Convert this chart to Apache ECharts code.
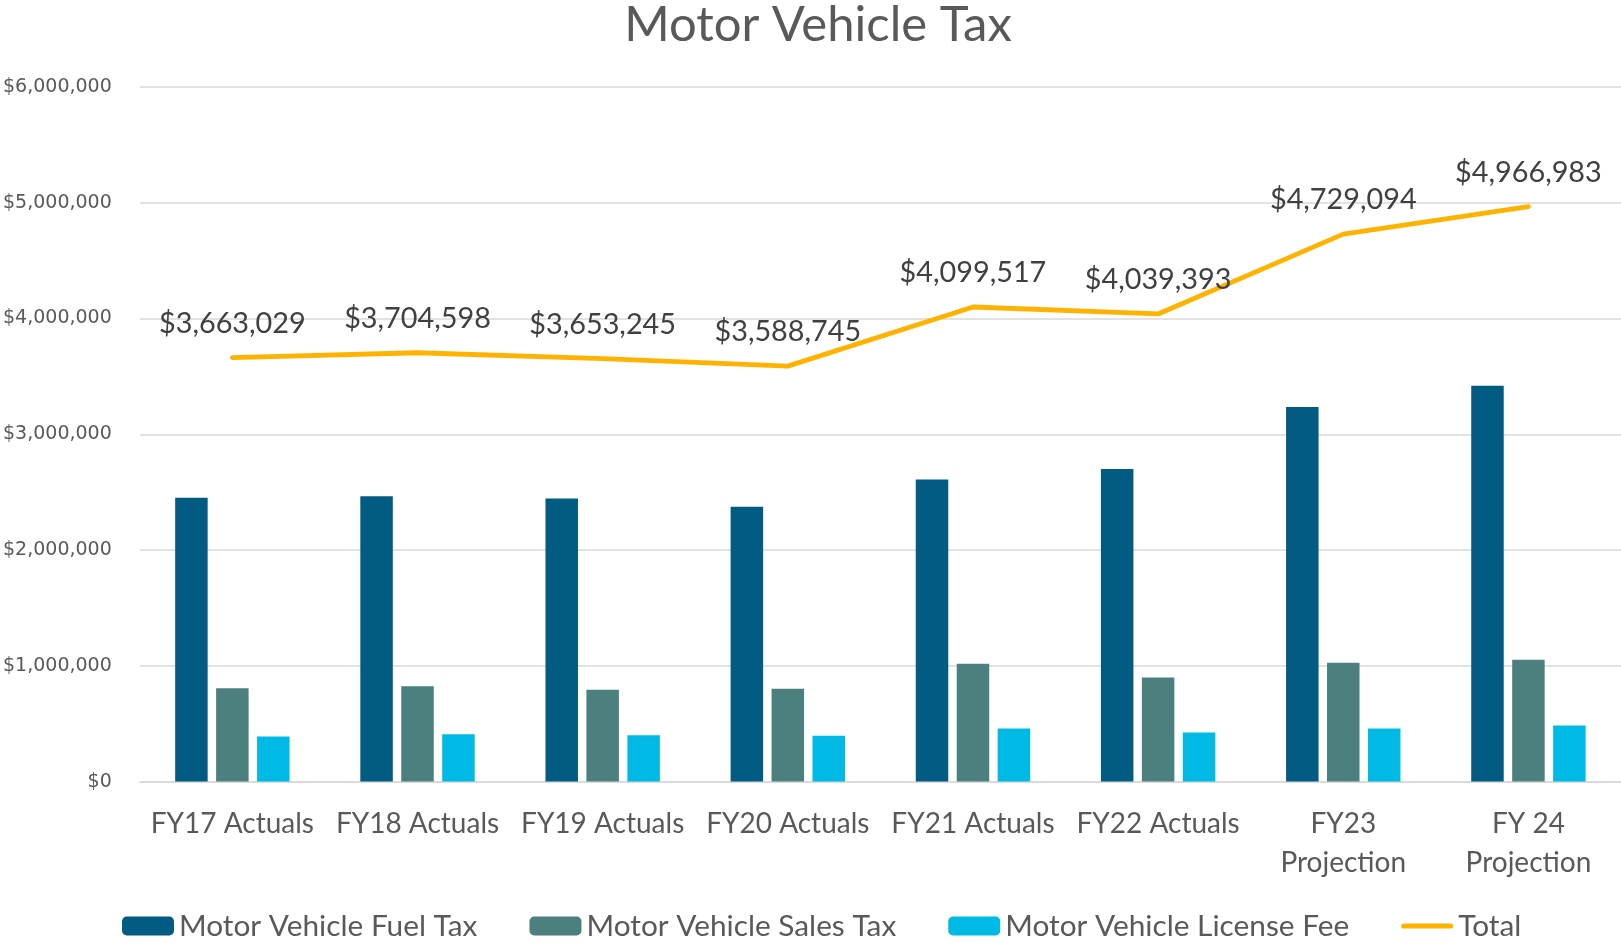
<!DOCTYPE html>
<html>
<head>
<meta charset="utf-8">
<script src="https://cdn.jsdelivr.net/npm/echarts@6/dist/echarts.min.js"></script>
<style>
html,body{margin:0;padding:0;background:#fff;}
#chart{width:1621px;height:942px;}
</style>
</head>
<body>
<div id="chart"></div>
<script>
const categories = ['FY17 Actuals','FY18 Actuals','FY19 Actuals','FY20 Actuals','FY21 Actuals','FY22 Actuals','FY23\nProjection','FY 24\nProjection'];
const fuelTax = [2452000, 2464000, 2446000, 2374000, 2610000, 2700000, 3236000, 3420000];
const salesTax = [807000, 824000, 793000, 801000, 1017000, 899000, 1026000, 1052000];
const licenseFee = [389000, 409000, 401000, 395000, 458000, 424000, 458000, 484000];
const totals = [3663029, 3704598, 3653245, 3588745, 4099517, 4039393, 4729094, 4966983];
const yTicks = {min: 0, max: 6000000, interval: 1000000};

const FONT = 'Lato, "Noto Sans", sans-serif';
const money = v => '$' + Math.round(v).toLocaleString('en-US');

const chart = echarts.init(document.getElementById('chart'));
chart.setOption({
  animation: false,
  backgroundColor: '#ffffff',
  textStyle: {fontFamily: FONT},
  title: {
    text: 'Motor Vehicle Tax',
    left: 813,
    textAlign: 'center',
    top: -4,
    textStyle: {fontFamily: FONT, fontSize: 49, fontWeight: 'normal', color: '#595959'}
  },
  legend: {
    left: 122,
    top: 911,
    padding: 0,
    itemWidth: 52,
    itemHeight: 19,
    itemGap: 52,
    textStyle: {fontFamily: FONT, fontSize: 29.8, color: '#595959', padding: [0,0,0,0]},
    data: [
      'Motor Vehicle Fuel Tax',
      'Motor Vehicle Sales Tax',
      'Motor Vehicle License Fee',
      {name: 'Total', icon: 'path://M5,0 H95 A5,5 0 0 1 95,10 H5 A5,5 0 0 1 5,0 Z'}
    ]
  },
  grid: {left: 139, right: 0, top: 87, bottom: 160.4, containLabel: false},
  xAxis: {
    type: 'category',
    data: categories,
    axisLine: {show: true, lineStyle: {color: '#d9d9d9', width: 1.5}},
    axisTick: {show: false},
    axisLabel: {fontFamily: FONT, fontSize: 28, color: '#595959', lineHeight: 39, margin: 23, interval: 0}
  },
  yAxis: {
    type: 'value',
    min: yTicks.min,
    max: yTicks.max,
    interval: yTicks.interval,
    axisLine: {show: false},
    axisTick: {show: false},
    splitLine: {lineStyle: {color: '#d9d9d9', width: 1.5}},
    axisLabel: {fontFamily: '"DejaVu Sans", Verdana, sans-serif', fontSize: 19, color: '#595959', margin: 28, formatter: money}
  },
  series: [
    {name: 'Motor Vehicle Fuel Tax', type: 'bar', data: fuelTax, barWidth: 32.5, barGap: '26%',
     itemStyle: {color: '#025b82'}},
    {name: 'Motor Vehicle Sales Tax', type: 'bar', data: salesTax, barWidth: 32.5, barGap: '26%',
     itemStyle: {color: '#4b807f'}},
    {name: 'Motor Vehicle License Fee', type: 'bar', data: licenseFee, barWidth: 32.5, barGap: '26%',
     itemStyle: {color: '#00b9e4'}},
    {name: 'Total', type: 'line', data: totals, symbol: 'circle', symbolSize: 1, showSymbol: true, z: 5,
     lineStyle: {color: '#ffb300', width: 4.8, cap: 'round', join: 'round'},
     itemStyle: {color: '#ffb300'},
     label: {show: true, position: 'top', distance: 19, fontFamily: FONT, fontSize: 28.8, color: '#404040',
       formatter: p => money(p.value)}}
  ]
});
</script>
</body>
</html>
